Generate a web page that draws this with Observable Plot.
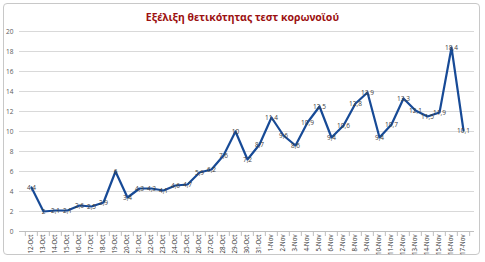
<!DOCTYPE html>
<html>
<head>
<meta charset="utf-8">
<script src="https://cdn.jsdelivr.net/npm/d3@7"></script>
<script src="https://cdn.jsdelivr.net/npm/@observablehq/plot@0.6"></script>
<style>
  html, body { margin: 0; padding: 0; background: #fff; }
  #wrap { position: relative; width: 485px; height: 262px; overflow: hidden; font-family: "Open Sans", "DejaVu Sans", sans-serif; }
  #frame { position: absolute; left: 3px; top: 3px; width: 477px; height: 252px; border: 1px solid #c8c8c8; border-radius: 4px; box-sizing: border-box; }
  #title { position: absolute; left: 0; width: 485px; top: 10px; text-align: center; font-size: 10.5px; font-weight: bold; color: #9c1111; font-family: "Noto Sans", "Open Sans", sans-serif; }
  #chart { position: absolute; left: 0; top: 22px; }
</style>
</head>
<body>
<div id="wrap">
  <div id="frame"></div>
  <div id="title">Εξέλιξη θετικότητας τεστ κορωνοϊού</div>
  <div id="chart"></div>
</div>
<script>
const dates = ["12-Oct","13-Oct","14-Oct","15-Oct","16-Oct","17-Oct","18-Oct","19-Oct","20-Oct","21-Oct",
  "22-Oct","23-Oct","24-Oct","25-Oct","26-Oct","27-Oct","28-Oct","29-Oct","30-Oct","31-Oct",
  "1-Nov","2-Nov","3-Nov","4-Nov","5-Nov","6-Nov","7-Nov","8-Nov","9-Nov","10-Nov",
  "11-Nov","12-Nov","13-Nov","14-Nov","15-Nov","16-Nov","17-Nov"];
const positivity = [4.4,2,2.1,2.1,2.6,2.5,2.9,6,3.4,4.3,4.3,4.1,4.6,4.7,5.9,6.2,7.6,10,7.2,8.7,
  11.4,9.6,8.6,10.9,12.5,9.4,10.6,12.8,13.9,9.4,10.7,13.3,12.1,11.5,11.9,18.4,10.1];
const yTicks = [0,2,4,6,8,10,12,14,16,18,20];

const data = dates.map((d, i) => ({date: d, value: positivity[i]}));
const W = 485, mL = 19, mR = 11;
const bw = (W - mL - mR) / dates.length;
const fmt = v => String(v).replace(".", ",");

const plot = Plot.plot({
  width: W,
  height: 236,
  marginLeft: mL,
  marginRight: mR,
  marginTop: 9,
  marginBottom: 27,
  style: {fontFamily: "'Open Sans', 'DejaVu Sans', sans-serif", background: "transparent", color: "#595959"},
  x: {type: "band", domain: dates, padding: 0, label: null},
  y: {domain: [0, 20], label: null},
  marks: [
    Plot.gridY(yTicks, {stroke: "#d9d9d9", strokeOpacity: 1, strokeWidth: 1}),
    Plot.axisY(yTicks, {tickSize: 0, tickPadding: 6, fontSize: 6.5, fill: "#595959", label: null}),
    Plot.ruleY([0], {stroke: "#bfbfbf"}),
    Plot.ruleX(dates, {x: d => d, dx: -bw / 2, y1: 0, y2: -0.5, stroke: "#bfbfbf"}),
    Plot.ruleX([dates[dates.length - 1]], {x: d => d, dx: bw / 2, y1: 0, y2: -0.5, stroke: "#bfbfbf"}),
    Plot.axisX({tickSize: 0, tickPadding: 3, tickRotate: -90, fontSize: 6.2, fill: "#333333", label: null}),
    Plot.line(data, {x: "date", y: "value", stroke: "#174a96", strokeWidth: 2.2, curve: "linear"}),
    Plot.text(data, {x: "date", y: "value", text: d => fmt(d.value), fontSize: 6.5, fill: "#404040"})
  ]
});
document.getElementById("chart").appendChild(plot);
</script>
</body>
</html>
